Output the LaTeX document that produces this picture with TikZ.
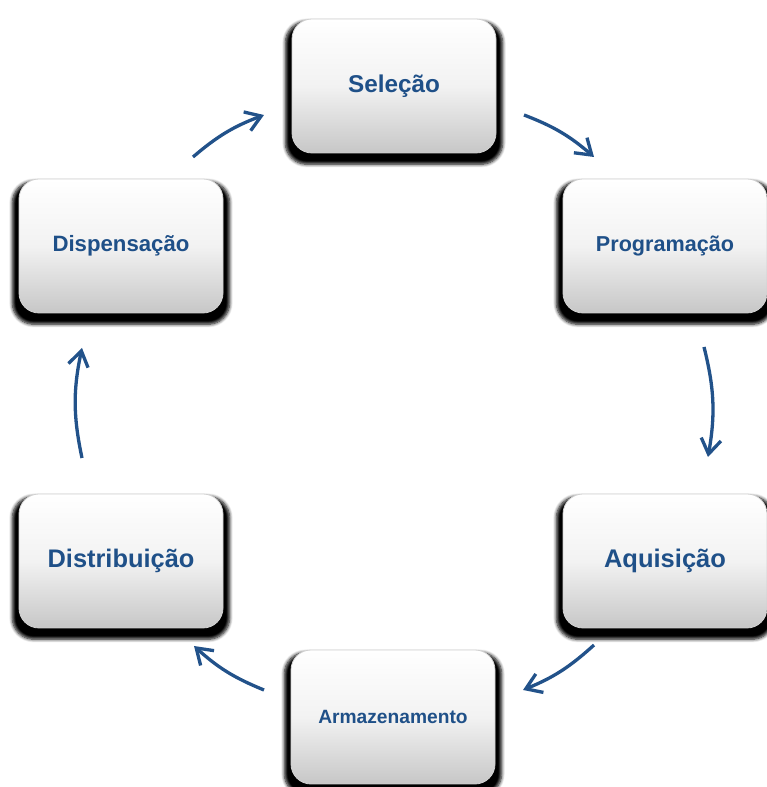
\documentclass[tikz,border=0pt]{standalone}
\usepackage{fontspec}
\setmainfont{Liberation Sans}
\usetikzlibrary{arrows.meta,shadows.blur}
\definecolor{txtblue}{HTML}{1F5088}
\definecolor{arrblue}{HTML}{22528A}
\tikzset{
  stagebox/.style={rectangle, rounded corners=20pt, minimum width=204pt, minimum height=134pt,
    top color=white, bottom color=black!22, middle color=white!95!black,
    draw=black!18, line width=0.8pt, text=txtblue, font=\bfseries,
    blur shadow={shadow xshift=0pt, shadow yshift=-6.5pt, shadow opacity=100, shadow scale=1.065, shadow blur radius=3pt, shadow blur steps=6}},
  flow/.style={draw=arrblue, line width=3.3pt, -{Straight Barb[length=15pt,width=20pt,line width=3.3pt]}}
}
\begin{document}
\begin{tikzpicture}[x=1pt,y=1pt]
\useasboundingbox (0,0) rectangle (766,787);
\node[stagebox] (sel)  at (394,701) {\fontsize{24.3}{28}\selectfont Seleção};
\node[stagebox] (prog) at (665,541) {\fontsize{21.6}{26}\selectfont Programação};
\node[stagebox] (aq)   at (665,226) {\fontsize{25.5}{30}\selectfont Aquisição};
\node[stagebox] (arm)  at (393,70)  {\fontsize{19.2}{23}\selectfont Armazenamento};
\node[stagebox] (dist) at (121,226) {\fontsize{25.4}{30}\selectfont Distribuição};
\node[stagebox] (disp) at (121,541) {\fontsize{22.2}{26}\selectfont Dispensação};
\coordinate (a1s) at (193,630); \coordinate (a1e) at (264,672);
\coordinate (a2s) at (524,672); \coordinate (a2e) at (594,630);
\coordinate (a3s) at (704,440); \coordinate (a3e) at (708,330);
\coordinate (a4s) at (594,142); \coordinate (a4e) at (523,97);
\coordinate (a5s) at (264,97);  \coordinate (a5e) at (194,141);
\coordinate (a6s) at (82,329);  \coordinate (a6e) at (82,439);
\draw[flow] (a1s) to[bend left=10] (a1e);
\draw[flow] (a2s) to[bend left=10] (a2e);
\draw[flow] (a3s) to[bend left=12] (a3e);
\draw[flow] (a4s) to[bend left=10] (a4e);
\draw[flow] (a5s) to[bend left=10] (a5e);
\draw[flow] (a6s) to[bend left=12] (a6e);
\end{tikzpicture}
\end{document}
